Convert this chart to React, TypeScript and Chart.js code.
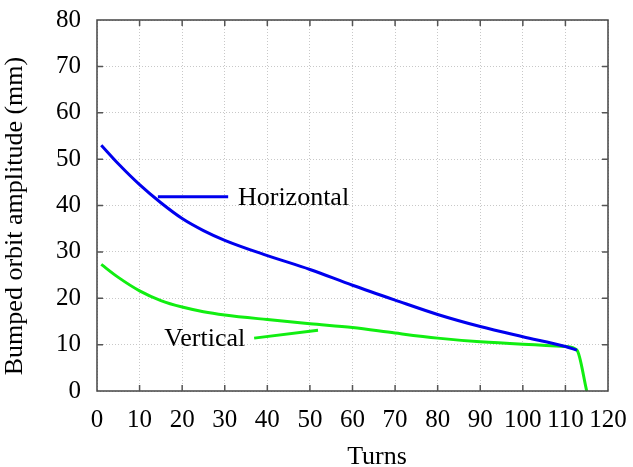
import React, { useEffect, useRef } from "react";
import { Chart, registerables } from "chart.js";

Chart.register(...registerables);

const hTurns = [1, 5, 10, 15, 20, 25, 30, 40, 50, 60, 70, 80, 90, 100, 110, 112.7];
const hAmp = [53, 49, 44.5, 40.6, 37.2, 34.6, 32.5, 29.2, 26.2, 22.8, 19.6, 16.5, 13.9, 11.7, 9.6, 8.8];

const vTurns = [1, 5, 10, 15, 20, 25, 30, 40, 50, 60, 70, 80, 90, 100, 110, 112.7, 115];
const vAmp = [27.3, 24.5, 21.6, 19.5, 18.1, 17.1, 16.4, 15.4, 14.5, 13.7, 12.5, 11.4, 10.6, 10.1, 9.6, 8.8, 0];

const hKeyX = [14.3, 30.8];
const hKeyY = [41.9, 41.9];
const vKeyX = [36.9, 51.9];
const vKeyY = [11.4, 13.1];

const labelTexts = ["Horizontal", "Vertical"];
const labelX = [33.1, 34.8];
const labelY = [40.2, 9.6];

const xTitle = "Turns";
const yTitle = "Bumped orbit amplitude (mm)";

const BLUE = "#0000ee";
const GREEN = "#11ee11";
const FONT = "'Liberation Serif', 'Times New Roman', serif";

const zip = (xs: number[], ys: number[]) => xs.map((x, i) => ({ x, y: ys[i] }));

export default function App() {
  const ref = useRef<HTMLCanvasElement | null>(null);
  useEffect(() => {
    if (!ref.current) return;
    const framePlugin = {
      id: "frame",
      afterDraw(chart: any) {
        const ctx = chart.ctx;
        const { left, right, top, bottom } = chart.chartArea;
        const xs = chart.scales.x;
        const ys = chart.scales.y;
        ctx.save();
        ctx.strokeStyle = "#444";
        ctx.lineWidth = 1.5;
        ctx.strokeRect(left, top, right - left, bottom - top);
        ctx.strokeStyle = "#555";
        ctx.lineWidth = 1.5;
        const tl = 6;
        for (let v = 10; v < 120; v += 10) {
          const px = xs.getPixelForValue(v);
          ctx.beginPath();
          ctx.moveTo(px, bottom);
          ctx.lineTo(px, bottom - tl);
          ctx.moveTo(px, top);
          ctx.lineTo(px, top + tl);
          ctx.stroke();
        }
        for (let v = 10; v < 80; v += 10) {
          const py = ys.getPixelForValue(v);
          ctx.beginPath();
          ctx.moveTo(left, py);
          ctx.lineTo(left + tl, py);
          ctx.moveTo(right, py);
          ctx.lineTo(right - tl, py);
          ctx.stroke();
        }
        ctx.fillStyle = "#000";
        ctx.font = `26px ${FONT}`;
        ctx.textBaseline = "alphabetic";
        labelTexts.forEach((t, i) => {
          ctx.textAlign = i === 0 ? "left" : "right";
          ctx.fillText(t, xs.getPixelForValue(labelX[i]), ys.getPixelForValue(labelY[i]));
        });
        ctx.textAlign = "center";
        ctx.fillText(xTitle, 377, 464);
        ctx.translate(22, 216);
        ctx.rotate(-Math.PI / 2);
        ctx.fillText(yTitle, 0, 0);
        ctx.restore();
      },
    };
    const chart = new Chart(ref.current, {
      type: "line",
      data: {
        datasets: [
          { data: zip(hTurns, hAmp), borderColor: BLUE, borderWidth: 3, pointRadius: 0, cubicInterpolationMode: "monotone" },
          { data: zip(vTurns, vAmp), borderColor: GREEN, borderWidth: 3, pointRadius: 0, cubicInterpolationMode: "monotone" },
          { data: zip(hKeyX, hKeyY), borderColor: BLUE, borderWidth: 3, pointRadius: 0 },
          { data: zip(vKeyX, vKeyY), borderColor: GREEN, borderWidth: 3, pointRadius: 0 },
        ],
      },
      options: {
        animation: false,
        responsive: false,
        maintainAspectRatio: false,
        layout: { padding: { top: 20, right: 25, left: 0, bottom: 0 } },
        plugins: { legend: { display: false }, tooltip: { enabled: false } },
        scales: {
          x: {
            type: "linear",
            min: 0,
            max: 120,
            afterFit: (s: any) => { s.height = 76; },
            ticks: { stepSize: 10, color: "#000", padding: 0, maxRotation: 0, font: { family: FONT, size: 25 } },
            grid: { color: "#c8c8c8", lineWidth: 1, drawTicks: true, tickLength: 14, tickColor: "rgba(0,0,0,0)" },
            border: { display: false, dash: [1, 2] },
          },
          y: {
            type: "linear",
            min: 0,
            max: 80,
            afterFit: (s: any) => { s.width = 97; },
            ticks: { stepSize: 10, color: "#000", padding: 0, font: { family: FONT, size: 25 } },
            grid: { color: "#c8c8c8", lineWidth: 1, drawTicks: true, tickLength: 16, tickColor: "rgba(0,0,0,0)" },
            border: { display: false, dash: [1, 2] },
          },
        },
      },
      plugins: [framePlugin],
    } as any);
    return () => chart.destroy();
  }, []);
  return (
    <div style={{ position: "absolute", left: 0, top: 0, width: 633, height: 467, background: "#fff" }}>
      <canvas ref={ref} width={633} height={467} style={{ display: "block" }} />
    </div>
  );
}
